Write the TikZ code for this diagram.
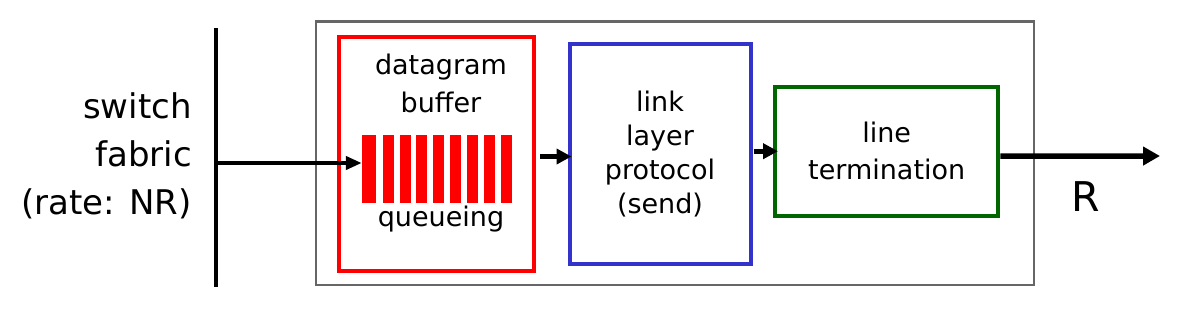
\documentclass[tikz,border=0pt]{standalone}
\usepackage{fontspec}
\setmainfont{DejaVu Sans}
\usepackage{xcolor}
\definecolor{portgray}{HTML}{666666}
\definecolor{bufred}{HTML}{FF0000}
\definecolor{linkblue}{HTML}{3333CC}
\definecolor{linegreen}{HTML}{006600}
\usetikzlibrary{arrows.meta}

\begin{document}
\begin{tikzpicture}[x=1pt,y=-1pt,
  box/.style={draw,line width=4pt,inner sep=0pt,align=center},
  flow/.style={line width=5pt,-{Triangle[length=15pt,width=15pt]}}]
\useasboundingbox (0,0) rectangle (1178,317);
% output port outline
\node[draw=portgray,line width=2.5pt,minimum width=718pt,minimum height=263.5pt] (port) at (675,153.25) {};
% switch fabric side
\draw[line width=4.5pt] (216,28) coordinate (fabtop) -- (216,287) coordinate (fabbot);
\coordinate (fabin) at (216,163);
\node[inner sep=0pt,align=right,anchor=east,font=\fontsize{34}{48.3}\selectfont] (fabric) at (192,156)
  {switch\\fabric\\(rate: NR)};
% datagram buffer with queue
\node[box,draw=bufred,minimum width=195pt,minimum height=234pt] (buffer) at (436.5,153.5) {};
\node[inner sep=0pt,align=center,font=\fontsize{27}{38}\selectfont] (buflbl) at (441,83) {datagram\\buffer};
\node[inner sep=0pt,minimum width=150pt,minimum height=68pt] (queue) at (437,169) {};
\fill[bufred] (361.7,135) rectangle (375.7,203);
\foreach \i in {0,...,7} \fill[bufred] (382.7+\i*16.85,135) rectangle ++(11,68);
\node[inner sep=0pt,font=\fontsize{27}{34}\selectfont] (qlbl) at (441,219) {queueing};
% link layer and line termination
\node[box,draw=linkblue,minimum width=181pt,minimum height=220.5pt,font=\fontsize{27}{34}\selectfont] (link) at (660,154)
  {link\\layer\\protocol\\(send)};
\node[box,draw=linegreen,minimum width=223.3pt,minimum height=129.3pt,font=\fontsize{27}{37}\selectfont] (term) at (886.7,151.2)
  {line\\termination};
\coordinate (out) at (1160,156);
\node[font=\fontsize{41}{49}\selectfont] (rate) at (1086,197) {R};
% flow of datagrams
\draw[flow,line width=4.5pt,-{Triangle[length=16pt,width=13pt]}] (fabin) -- (fabin -| queue.west);
\draw[flow] ([xshift=4pt,yshift=-3pt]buffer.east) -- ([xshift=4pt,yshift=-3pt]buffer.east -| link.west);
\draw[flow] ([xshift=1pt]link.east |- term.west) -- ([xshift=5pt]term.west);
\draw[flow,line width=5.5pt,-{Triangle[length=17pt,width=18pt]}] ([yshift=-5pt]term.east) -- (out);
\end{tikzpicture}
\end{document}
